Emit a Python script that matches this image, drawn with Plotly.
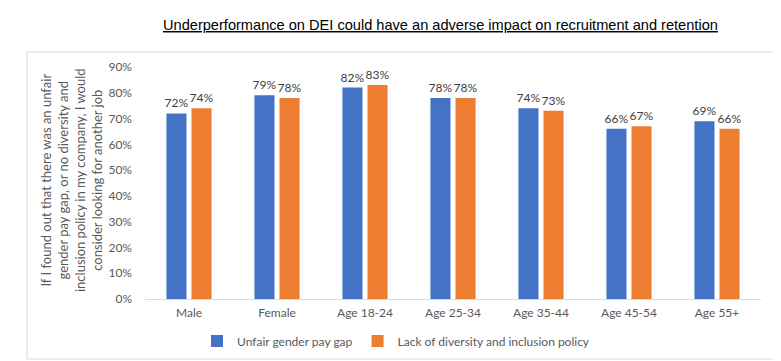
import plotly.graph_objects as go

categories = ["Male", "Female", "Age 18-24", "Age 25-34", "Age 35-44", "Age 45-54", "Age 55+"]
unfair_pay_gap = [0.72, 0.79, 0.82, 0.78, 0.74, 0.66, 0.69]
lack_dei_policy = [0.74, 0.78, 0.83, 0.78, 0.73, 0.67, 0.66]
series_names = ["Unfair gender pay gap", "Lack of diversity and inclusion policy"]
tick_vals = [0, 0.1, 0.2, 0.3, 0.4, 0.5, 0.6, 0.7, 0.8, 0.9]

FONT = "Lato, Calibri, Carlito, sans-serif"

fig = go.Figure()
for name, vals, color in [(series_names[0], unfair_pay_gap, "#4472C4"),
                          (series_names[1], lack_dei_policy, "#ED7D31")]:
    fig.add_trace(go.Bar(
        x=categories, y=vals, name=name,
        marker=dict(color=color, line=dict(width=0)),
        text=[f"{round(v*100)}%" for v in vals],
        textposition="outside",
        constraintext="none",
        textfont=dict(family=FONT, size=12, color="#404040"),
        cliponaxis=False,
    ))

W, H = 781, 361
L, R, T, B = 137, 28, 59, 70
pw, ph = W - L - R, H - T - B

def px_x(x):
    return (x - L) / pw

def px_y(y):
    return (H - B - y) / ph

fig.update_layout(
    width=W, height=H,
    margin=dict(l=L, r=R, t=T, b=B),
    paper_bgcolor="white", plot_bgcolor="white",
    barmode="group", bargap=0.43, bargroupgap=0.2,
    font=dict(family=FONT, size=12, color="#595959"),
    showlegend=True,
    legend=dict(orientation="h", x=px_x(388), xanchor="center", y=px_y(333), yanchor="middle",
                font=dict(family=FONT, size=12, color="#595959"), itemwidth=30,
                traceorder="normal"),
    xaxis=dict(showgrid=False, showline=True, linecolor="#d9d9d9", linewidth=1,
               ticks="", ticklabelstandoff=3,
               tickfont=dict(family=FONT, size=12, color="#595959"), fixedrange=True),
    yaxis=dict(range=[0, 0.9], tickvals=tick_vals, tickformat=".0%", showgrid=False,
               zeroline=False, showline=False, ticks="", ticklabelstandoff=12,
               tickfont=dict(family=FONT, size=12, color="#595959"), fixedrange=True),
    shapes=[dict(type="rect", xref="paper", yref="paper",
                 x0=px_x(19), x1=px_x(768), y0=px_y(351), y1=px_y(44),
                 line=dict(color="#d9d9d9", width=1), fillcolor="rgba(0,0,0,0)", layer="below")],
    annotations=[
        dict(text="<u>Underperformance on DEI could have an adverse impact on recruitment and retention</u>",
             xref="paper", yref="paper", x=px_x(432), y=px_y(17), xanchor="center", yanchor="middle",
             showarrow=False, font=dict(family="Liberation Sans, Arial, sans-serif", size=14.6, color="#000000")),
        dict(text="If I found out that there was an unfair<br>gender pay gap, or no diversity and<br>"
                  "inclusion policy in my company, I would<br>consider looking for another job",
             xref="paper", yref="paper", x=px_x(63), y=px_y(172), xanchor="center", yanchor="middle",
             textangle=-90, showarrow=False, align="center",
             font=dict(family=FONT, size=13, color="#595959")),
    ],
)

fig.write_html("out.html")
